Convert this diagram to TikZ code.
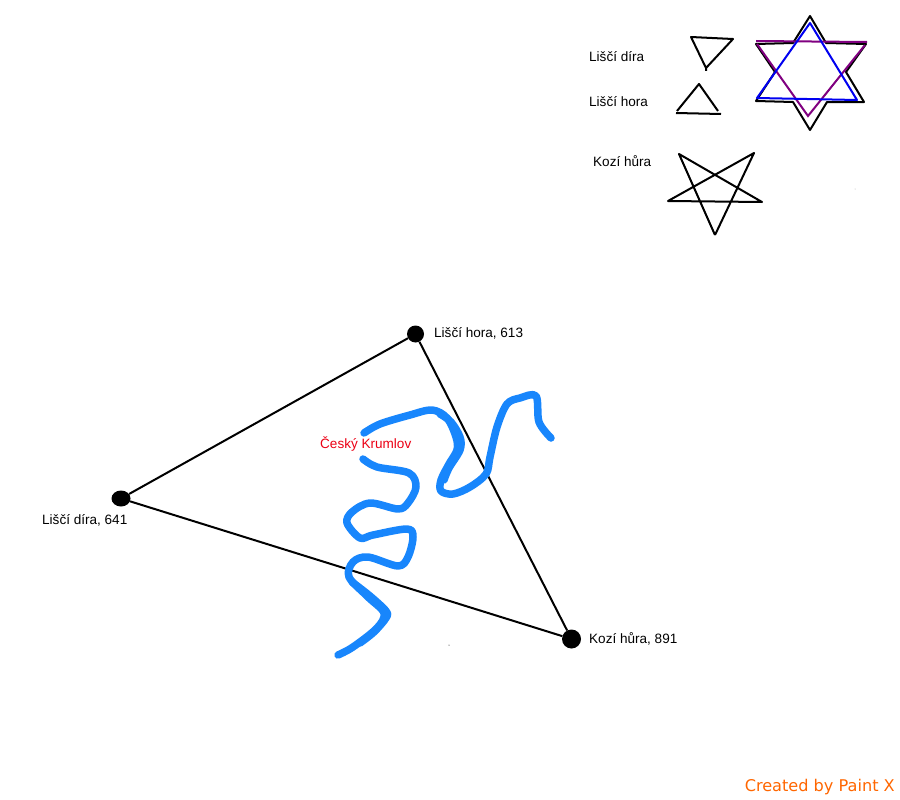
\documentclass[tikz,border=0pt]{standalone}
\usepackage{fontspec}
\setmainfont{Liberation Sans}
\newfontfamily\paintfont{DejaVu Sans}
\usetikzlibrary{shapes.geometric}

\begin{document}
\begin{tikzpicture}[
    x=1bp, y=-1bp,
    every node/.style={font=\fontsize{13.6}{16}\selectfont},
    peak/.style={ellipse, fill=black, inner sep=0pt, minimum width=#1, minimum height=17bp},
    peaklabel/.style={anchor=west, inner sep=0pt},
    sideline/.style={draw=black, line width=2bp, line join=round},
    symbolline/.style={draw=black, line width=2bp, line join=round},
    river/.style={draw=riverblue, line width=7.5bp, line cap=round, line join=round}
]
\definecolor{riverblue}{RGB}{24,134,252}
\definecolor{starpurple}{RGB}{128,0,128}
\definecolor{starblue}{RGB}{0,0,240}
\definecolor{cityred}{RGB}{235,0,20}
\definecolor{paintorange}{RGB}{255,102,0}

\useasboundingbox (0,0) rectangle (900,800);

% Peaks
\node[peak=17bp] (hora) at (415.5,334) {};
\node[peak=19bp, minimum height=16bp] (dira) at (121,498.5) {};
\node[peak=19bp, minimum height=19bp] (hura) at (571.5,639) {};

% Triangle between the peaks
\draw[sideline] (dira) -- (hora);
\draw[sideline] (hora) -- (hura);
\draw[sideline] (dira) -- (hura);

% River, upper part
\draw[river] plot[smooth, tension=0.55] coordinates {
    (364,433) (380,424) (410,415) (432,410) (447,418) (456,437) (457,450)
    (449,464) (441,480) (441,491) (453,494) (470,487) (486,474) (490,457)
    (497,427) (507,404) (520,398) (536,396) (539,422) (551,438)};
\draw[river] plot[smooth, tension=0.55] coordinates {
    (440,414) (451,422) (460,437) (460,450) (449,468) (444,480)};

% River, lower part
\draw[river] plot[smooth, tension=0.55] coordinates {
    (363,459) (377,467) (409,473) (416,487) (408,503) (398,509) (370,503)
    (352,512) (347,523) (360,538) (373,535) (407,529) (413,537) (408,557)
    (398,566) (368,557) (353,562) (349,577) (368,597) (384,613) (377,628)
    (353,647) (338,655)};
\draw[river] plot[smooth, tension=0.55] coordinates {
    (352,582) (370,596) (386,611) (386,618) (374,632) (360,643)};

% Peak labels
\node[peaklabel] (horatext) at (434,333) {Liščí hora, 613};
\node[peaklabel] (diratext) at (42,520) {Liščí díra, 641};
\node[peaklabel] (huratext) at (589,639) {Kozí hůra, 891};
\node[peaklabel, text=cityred] (krumlov) at (320,444) {Český Krumlov};

% Key at the top right
\node[peaklabel] (keydira) at (589,57) {Liščí díra};
\node[peaklabel] (keyhora) at (589,102) {Liščí hora};
\node[peaklabel] (keyhura) at (593,161) {Kozí hůra};

% Small triangles and pentagram
\draw[symbolline] (706,71) -- (706,68) -- (691,37) -- (733,39) -- (706,68);
\draw[symbolline] (677,111) -- (699,84) -- (718,111);
\draw[symbolline] (676,113) -- (721,114);
\draw[symbolline] (715,235) -- (679,154) -- (762,202) -- (668,201) -- (754,153) -- (715,235);

% Hexagram
\draw[symbolline] (810,16) -- (826,43) -- (866,44) -- (846,72) -- (864,102) -- (827,102)
    -- (810,130) -- (793,102) -- (756,101) -- (775,72) -- (756,44) -- (793,43) -- cycle;
\draw[starpurple, line width=2bp] (756,41) -- (867,42);
\draw[starpurple, line width=2bp] (865,45) -- (808,116) -- (757,44);
\draw[starblue, line width=2bp, line join=round] (810,23) -- (857,100) -- (757,98) -- cycle;

% Specks
\fill[black] (449,645) circle (0.5bp);
\fill[black!30] (855,189) circle (0.5bp);

% Signature
\node[anchor=east, inner sep=0pt, text=paintorange, font=\paintfont\fontsize{16.2}{18}\selectfont] (signature) at (895,787) {Created by Paint X};

\end{tikzpicture}
\end{document}
